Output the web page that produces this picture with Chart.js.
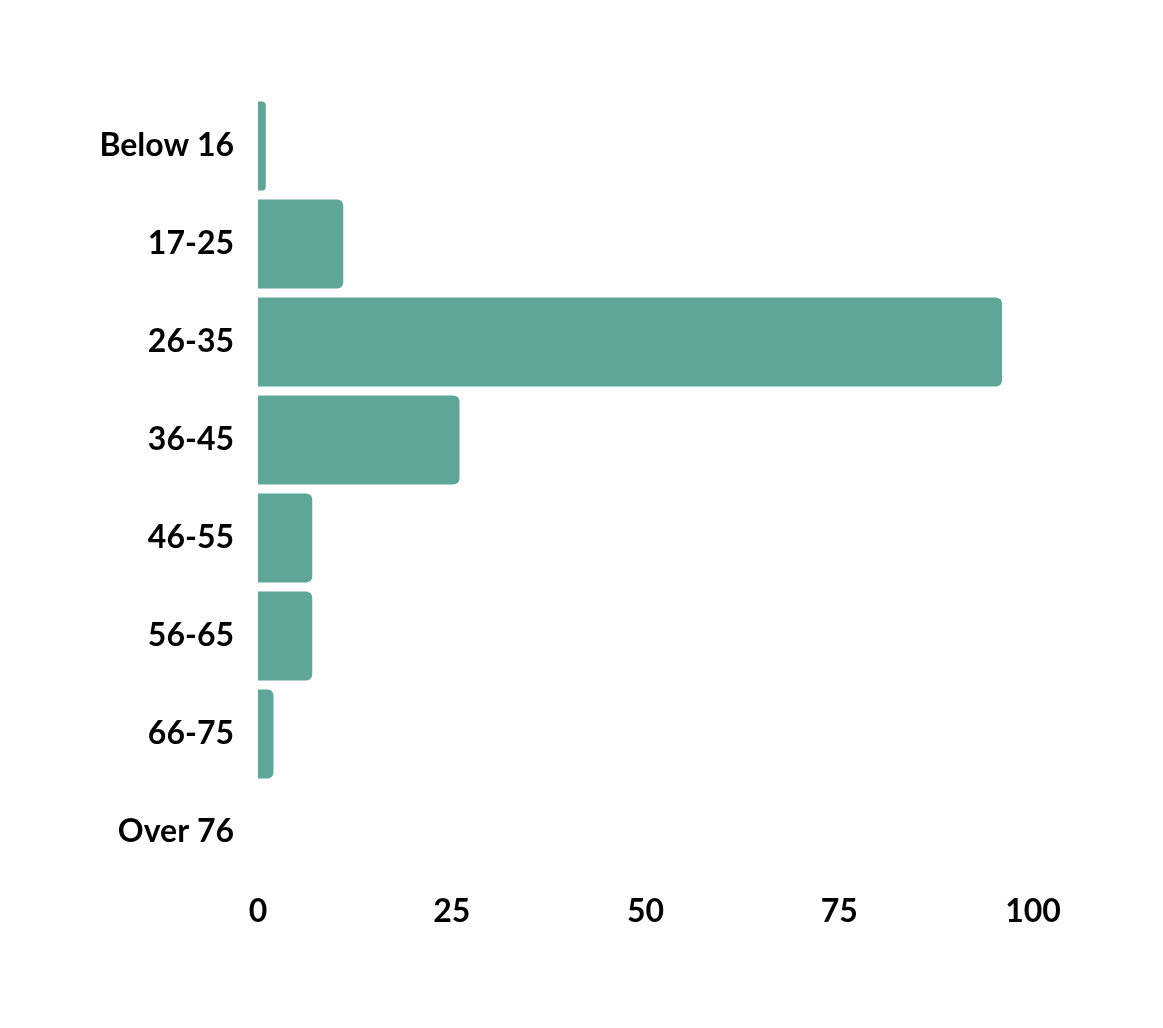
<!DOCTYPE html>
<html>
<head>
<meta charset="utf-8">
<script src="https://cdn.jsdelivr.net/npm/chart.js@4.4.1/dist/chart.umd.min.js"></script>
<style>
  html, body { margin: 0; padding: 0; background: #fff; }
  #wrap { width: 1163px; height: 1028px; }
</style>
</head>
<body>
<div id="wrap"><canvas id="ageChart"></canvas></div>
<script>
// age groups and counts
const ageGroups = ["Below 16", "17-25", "26-35", "36-45", "46-55", "56-65", "66-75", "Over 76"];
const counts = [1, 11, 96, 26, 7, 7, 2, 0];
const xTicks = [0, 25, 50, 75, 100];

const labelFont = { family: "Lato", size: 32, weight: "bold" };

const ctx = document.getElementById("ageChart").getContext("2d");
new Chart(ctx, {
    type: "bar",
    data: {
        labels: ageGroups,
        datasets: [{
            data: counts,
            backgroundColor: "#5da698",
            borderRadius: 6,
            borderSkipped: "start",
            barPercentage: 0.91,
            categoryPercentage: 1
        }]
    },
    options: {
        indexAxis: "y",
        responsive: true,
        maintainAspectRatio: false,
        animation: false,
        layout: { padding: { top: 97, bottom: 87, left: 0, right: 130 } },
        plugins: { legend: { display: false }, tooltip: { enabled: false } },
        scales: {
            x: {
                min: 0,
                max: 100,
                afterBuildTicks: (scale) => { scale.ticks = xTicks.map(v => ({ value: v })); },
                grid: { display: false, drawTicks: false },
                border: { display: false },
                ticks: { color: "#000", font: labelFont, padding: 11, maxRotation: 0 },
                afterFit: (scale) => { scale.height = 60; }
            },
            y: {
                grid: { display: false, drawTicks: false },
                border: { display: false },
                ticks: { color: "#000", font: labelFont, padding: 24 },
                afterFit: (scale) => { scale.width = 258; }
            }
        }
    }
});
</script>
</body>
</html>
